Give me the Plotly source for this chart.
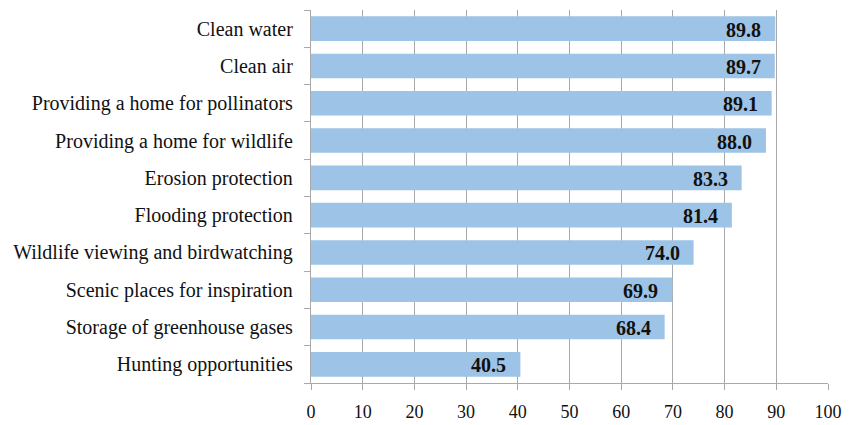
import plotly.graph_objects as go

categories = [
    "Clean water",
    "Clean air",
    "Providing a home for pollinators",
    "Providing a home for wildlife",
    "Erosion protection",
    "Flooding protection",
    "Wildlife viewing and birdwatching",
    "Scenic places for inspiration",
    "Storage of greenhouse gases",
    "Hunting opportunities",
]
values = [89.8, 89.7, 89.1, 88.0, 83.3, 81.4, 74.0, 69.9, 68.4, 40.5]
x_ticks = [0, 10, 20, 30, 40, 50, 60, 70, 80, 90, 100]

FONT = "Liberation Serif"
GRID = "#A9A9A9"

fig = go.Figure()
fig.add_trace(go.Bar(
    x=values,
    y=categories,
    orientation="h",
    width=0.66,
    marker=dict(color="#9DC3E6", line=dict(width=0)),
    hoverinfo="skip",
))

for c, v in zip(categories, values):
    fig.add_annotation(
        x=v, y=c, text="<b>%.1f</b>" % v, showarrow=False,
        xanchor="right", xshift=-12, yshift=-1,
        font=dict(family=FONT, size=20, color="#111111"),
    )

fig.update_layout(
    width=858, height=425,
    margin=dict(l=311, r=30, t=10, b=42),
    plot_bgcolor="white", paper_bgcolor="white",
    showlegend=False,
    font=dict(family=FONT, size=20, color="#111111"),
    xaxis=dict(
        range=[0, 100], tickvals=x_ticks, ticktext=[str(t) for t in x_ticks],
        showgrid=True, gridcolor=GRID, gridwidth=1.3,
        showline=True, linecolor=GRID, linewidth=1.3,
        ticks="outside", ticklen=6, tickcolor=GRID, tickwidth=1.3,
        ticklabelstandoff=6, automargin=False,
        zeroline=False, fixedrange=True,
        tickfont=dict(family=FONT, size=18, color="#111111"),
    ),
    yaxis=dict(
        categoryorder="array", categoryarray=categories[::-1],
        autorange=True, automargin=False,
        showgrid=False, showline=True, linecolor=GRID, linewidth=1.3,
        ticks="outside", ticklen=6, tickcolor=GRID, tickwidth=1.3,
        tickson="boundaries",
        ticklabelstandoff=13,
        tickfont=dict(family=FONT, size=20, color="#111111"),
        fixedrange=True,
    ),
)

fig.write_html("out.html")
